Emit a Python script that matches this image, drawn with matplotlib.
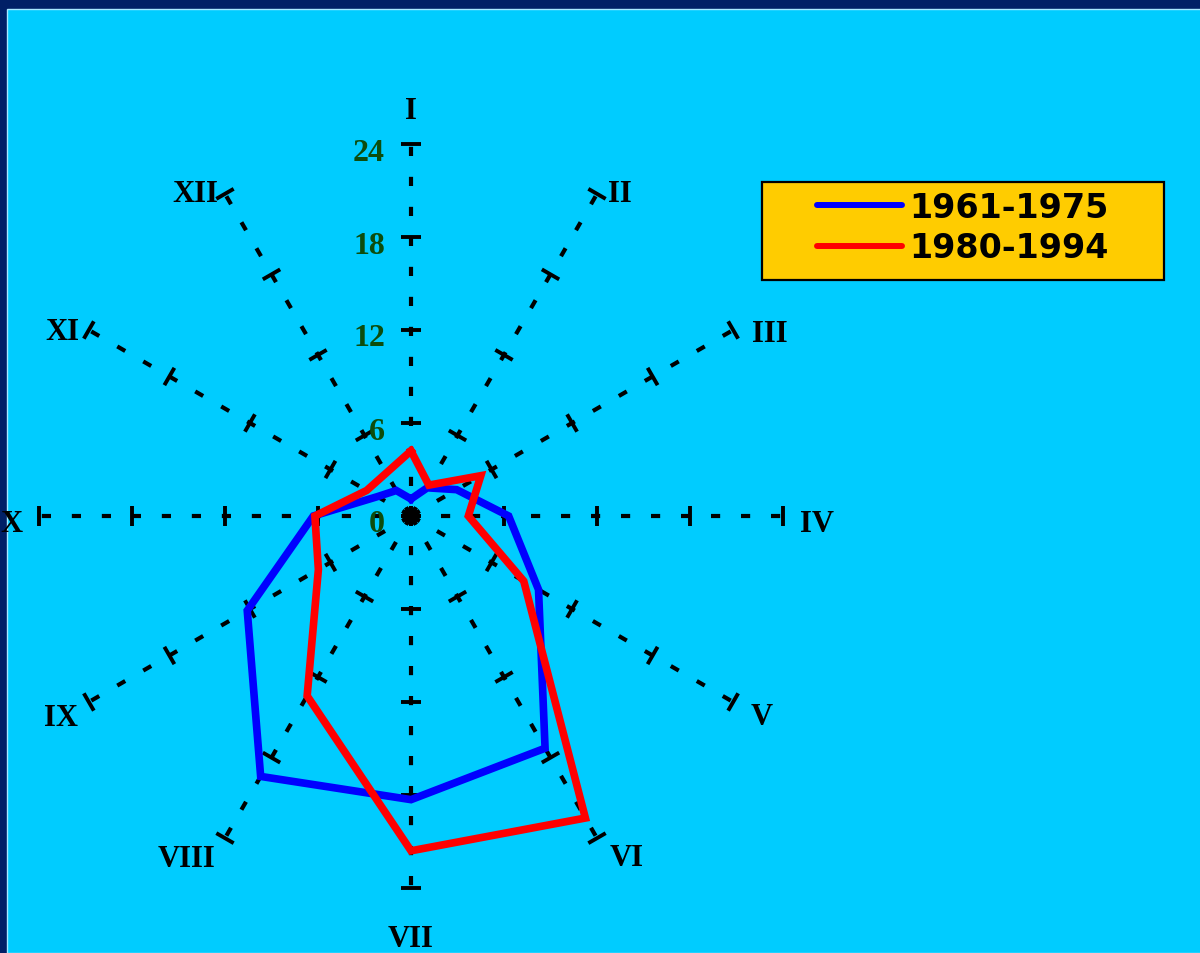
import matplotlib.pyplot as plt
import numpy as np
from matplotlib.patches import Rectangle
from matplotlib.lines import Line2D

# data (monthly values, I..XII)
months = ['I', 'II', 'III', 'IV', 'V', 'VI', 'VII', 'VIII', 'IX', 'X', 'XI', 'XII']
series_names = ['1961-1975', '1980-1994']
values_1961_1975 = [1.1, 2.1, 3.4, 6.3, 9.5, 17.3, 18.3, 19.4, 12.2, 6.3, 2.5, 1.9]
values_1980_1994 = [4.2, 2.3, 5.2, 3.7, 8.4, 22.5, 21.6, 13.4, 6.9, 6.2, 3.3, 3.2]
r_ticks = [0, 6, 12, 18, 24]
r_max = 24

series_colors = ['#0000ff', '#ff0000']

W, H = 1200, 954
cx, cy = 411, 517      # centre of the radar in pixels (from top-left)
ppu = 15.5             # pixels per unit

fig = plt.figure(figsize=(W / 100, H / 100), dpi=100)
fig.patch.set_facecolor('#002066')
fig.patches.append(Rectangle((7 / W, 0), 1.0, 1 - 10 / H, transform=fig.transFigure,
                             facecolor='#00ccff', edgecolor='#a8e8ff', lw=1, zorder=-10))

ax = fig.add_axes([0, 0, 1, 1])
ax.set_zorder(1)
ax.set_xlim(-cx / ppu, (W - cx) / ppu)
ax.set_ylim(-(H - cy) / ppu, cy / ppu)
ax.axis('off')
ax.patch.set_alpha(0)

theta = np.radians(30 * np.arange(len(months)))   # clockwise from north
sx, sy = np.sin(theta), np.cos(theta)

# dashed spokes with perpendicular ticks
half = 10 / ppu
for k in range(len(months)):
    ax.plot([0, r_max * sx[k]], [0, r_max * sy[k]], color='black', lw=3,
            dashes=(2.2, 5), zorder=2)
    for r in r_ticks:
        px, py = r * sx[k], r * sy[k]
        ax.plot([px - half * sy[k], px + half * sy[k]],
                [py + half * sx[k], py - half * sx[k]],
                color='black', lw=2.8, solid_capstyle='butt', zorder=2)

# month labels: offsets (pixels) from the spoke end
label_off = [(0, 34, 'center'), (11, 0, 'left'), (19, -4, 'left'), (17, -8, 'left'),
             (17, -15, 'left'), (13, -19, 'left'), (0, -51, 'center'), (-10, -20, 'right'),
             (-11, -16, 'right'), (-16, -8, 'right'), (-9, -2, 'right'), (-7, 0, 'right')]
for k, m in enumerate(months):
    dx, dy, ha = label_off[k]
    ax.annotate(m, (r_max * sx[k], r_max * sy[k]), xytext=(dx, dy),
                textcoords='offset pixels', ha=ha, va='center',
                fontsize=22, fontweight='bold', family='Liberation Serif',
                color='black', zorder=5)

# radial tick numbers along the I axis
for r in r_ticks:
    ax.annotate(str(r), (0, r), xytext=(-26, -8), textcoords='offset pixels',
                ha='right', va='center', fontsize=23, fontweight='bold',
                family='Liberation Serif', color='#0d4d0d', zorder=5)

# data polygons
for vals, col in zip([values_1961_1975, values_1980_1994], series_colors):
    v = np.array(vals + vals[:1])
    t = np.append(theta, theta[0])
    ax.plot(v * np.sin(t), v * np.cos(t), color=col, lw=5.5,
            solid_joinstyle='miter', zorder=4)

# legend box
fig.patches.append(Rectangle((762 / W, 1 - 281 / H), 402 / W, 98 / H,
                             transform=fig.transFigure, facecolor='#ffcc00',
                             edgecolor='black', lw=1.6, zorder=6))
for i, (name, col) in enumerate(zip(series_names, series_colors)):
    yl = 1 - (206 + 41 * i) / H
    fig.lines.append(Line2D([817 / W, 902 / W], [yl, yl], transform=fig.transFigure,
                            color=col, lw=4.3, solid_capstyle='round', zorder=7))
    fig.text(909 / W, 1 - (208 + 41 * i) / H, name, ha='left', va='center',
             fontsize=24, fontweight='heavy', family='DejaVu Sans', color='black',
             zorder=7)

plt.savefig('out.png', dpi=100, facecolor=fig.get_facecolor())
